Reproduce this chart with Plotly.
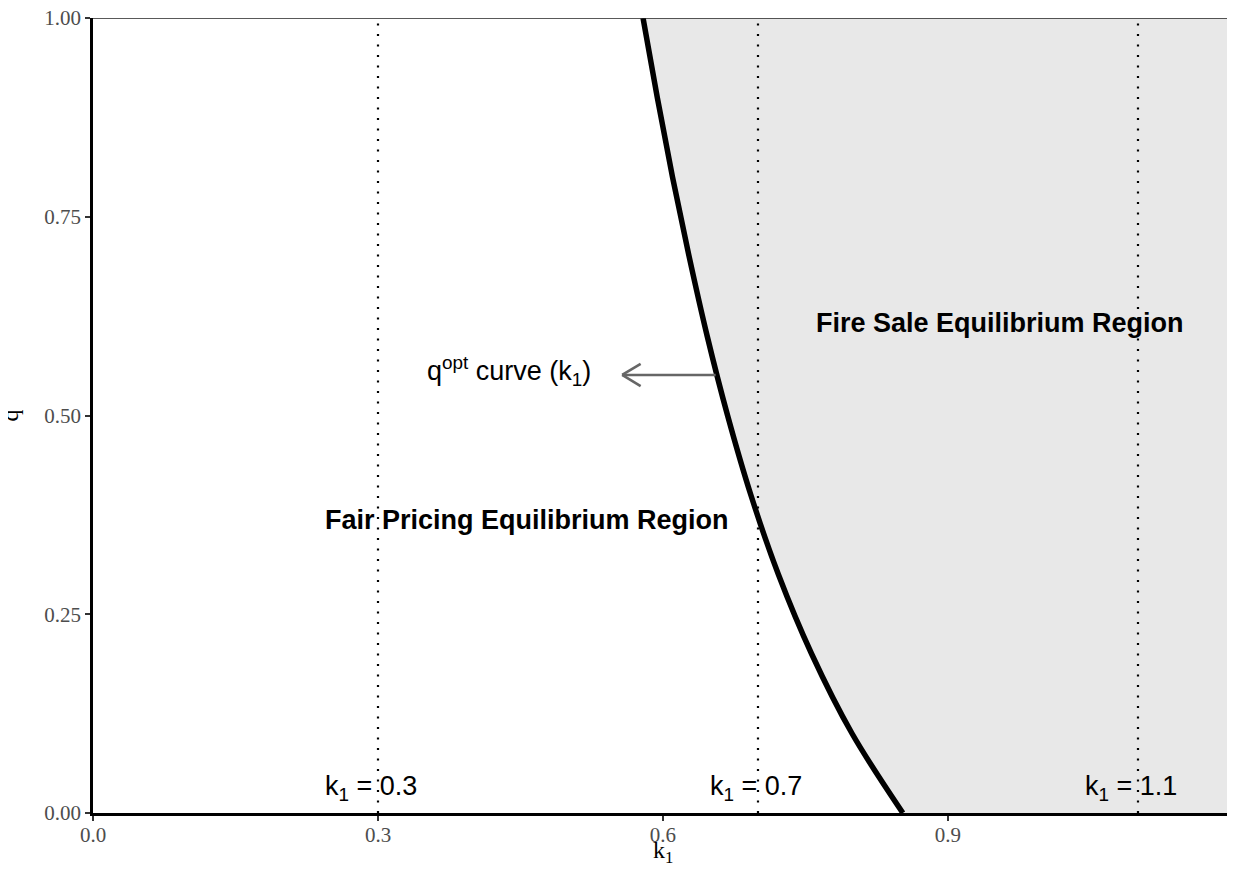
import plotly.graph_objects as go

# q_opt curve: k1 values at given q
curve_q = [1.00, 0.90, 0.80, 0.70, 0.60, 0.50, 0.40, 0.30, 0.20, 0.10, 0.00]
curve_k = [0.579, 0.594, 0.610, 0.6275, 0.6465, 0.668, 0.6925, 0.7215, 0.7565, 0.799, 0.8525]

vlines_k = [0.3, 0.7, 1.1]
vline_labels = ["k<sub>1</sub> = 0.3", "k<sub>1</sub> = 0.7", "k<sub>1</sub> = 1.1"]
vline_label_shift = [-7, -2, -7]

x_ticks = [0.0, 0.3, 0.6, 0.9]
x_ticklabels = ["0.0", "0.3", "0.6", "0.9"]
y_ticks = [0.0, 0.25, 0.5, 0.75, 1.0]
y_ticklabels = ["0.00", "0.25", "0.50", "0.75", "1.00"]

x_max = 1.2
y_max = 1.0
x_view_max = 1.1937   # visible part of the 0..1.2 panel inside the window

# arrow: from the curve (tail) pointing left to the tip
arrow_q = 0.551
arrow_tail_k = 0.657
arrow_tip_k = 0.557

fig = go.Figure()

# shaded fire-sale region to the right of the curve
fill_x = curve_k + [x_max, x_max]
fill_y = curve_q + [0.0, y_max]
fig.add_trace(go.Scatter(x=fill_x, y=fill_y, fill="toself", fillcolor="#E8E8E8",
                         line=dict(width=0), mode="lines", hoverinfo="skip", showlegend=False))

# dotted vertical lines
for k in vlines_k:
    fig.add_trace(go.Scatter(x=[k, k], y=[0, y_max], mode="lines",
                             line=dict(color="black", width=2.2, dash="2px,8.5px"),
                             showlegend=False, hoverinfo="skip"))

# curve
fig.add_trace(go.Scatter(x=curve_k, y=curve_q, mode="lines",
                         line=dict(color="black", width=5.5, shape="spline"),
                         showlegend=False))

# top border line
fig.add_shape(type="line", xref="x", yref="y", x0=0, x1=x_max, y0=y_max, y1=y_max,
              line=dict(color="#222222", width=1.5))

sans = "Liberation Sans, Arial, sans-serif"
serif = "Liberation Serif, Times New Roman, serif"

# labels
for k, lab, sh in zip(vlines_k, vline_labels, vline_label_shift):
    fig.add_annotation(x=k, y=0.031, text=lab, showarrow=False, xshift=sh,
                       font=dict(family=sans, size=27, color="black"))

fig.add_annotation(x=0.955, y=0.616, text="<b>Fire Sale Equilibrium Region</b>", showarrow=False,
                   font=dict(family=sans, size=27, color="black"))
fig.add_annotation(x=0.457, y=0.369, text="<b>Fair Pricing Equilibrium Region</b>", showarrow=False,
                   font=dict(family=sans, size=27, color="black"))
fig.add_annotation(x=0.438, y=0.556, text="q<sup>opt</sup> curve (k<sub>1</sub>)", showarrow=False,
                   font=dict(family=sans, size=27, color="black"))

# arrow shaft
arrow_color = "#666666"
fig.add_annotation(x=arrow_tip_k, y=arrow_q, ax=arrow_tail_k, ay=arrow_q,
                   xref="x", yref="y", axref="x", ayref="y",
                   text="", showarrow=True, arrowhead=0, arrowwidth=2.6,
                   arrowcolor=arrow_color, standoff=0, startstandoff=0)
# open chevron head (pixel offsets from the tip)
for dy in (-12, 12):
    fig.add_annotation(x=arrow_tip_k, y=arrow_q, ax=20, ay=dy, xref="x", yref="y",
                       text="", showarrow=True, arrowhead=0, arrowwidth=2.6,
                       arrowcolor=arrow_color, standoff=0)

# axis titles (placed as in the original)
fig.add_annotation(x=x_max / 2, xref="x", y=0, yref="paper", yshift=-39, yanchor="middle",
                   text="k<sub>1</sub>", showarrow=False,
                   font=dict(family=serif, size=24, color="black"))
fig.add_annotation(x=0, xref="paper", xshift=-84, xanchor="center", y=y_max / 2, yref="y",
                   text="q", textangle=-90, showarrow=False,
                   font=dict(family=serif, size=24, color="black"))

fig.update_layout(
    width=1219, height=862,
    margin=dict(l=85, r=0, t=10, b=57),
    plot_bgcolor="white", paper_bgcolor="white",
    xaxis=dict(range=[0, x_view_max], tickvals=x_ticks, ticktext=x_ticklabels,
               showgrid=False, zeroline=False, showline=True, linecolor="black", linewidth=2.8,
               ticks="outside", ticklen=5, tickwidth=2, tickcolor="#333333",
               ticklabeloverflow="allow", automargin=False, ticklabelstandoff=-4,
               tickfont=dict(family=serif, size=21, color="#4D4D4D")),
    yaxis=dict(range=[0, y_max], tickvals=y_ticks, ticktext=y_ticklabels,
               showgrid=False, zeroline=False, showline=True, linecolor="black", linewidth=2.8,
               ticks="outside", ticklen=5, tickwidth=2, tickcolor="#333333",
               ticklabeloverflow="allow", automargin=False,
               tickfont=dict(family=serif, size=21, color="#4D4D4D")),
)

fig.write_html("out.html")
